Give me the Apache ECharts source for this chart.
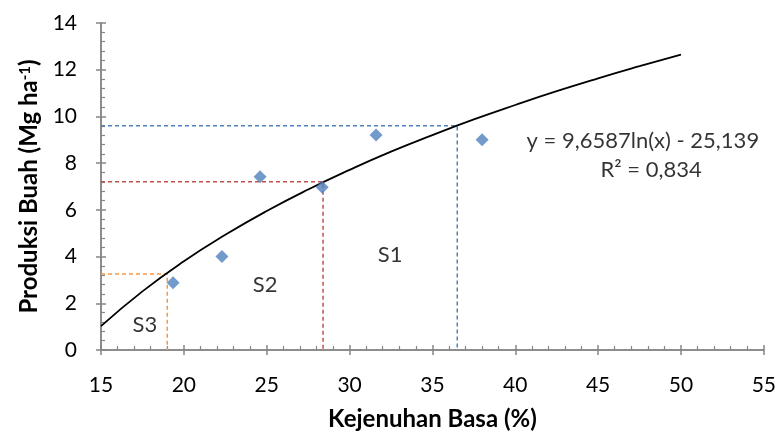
<!DOCTYPE html>
<html><head><meta charset="utf-8">
<script src="https://cdn.jsdelivr.net/npm/echarts@6/dist/echarts.min.js"></script>
<style>html,body{margin:0;padding:0;background:#fff}#c{width:779px;height:438px}</style>
</head><body><div id="c"></div>
<script>
// Observed data points (Kejenuhan Basa %, Produksi Buah Mg/ha)
const obsX = [19.35, 22.3, 24.6, 28.35, 31.6, 38.0];
const obsY = [2.88, 4.0, 7.42, 6.97, 9.2, 9.0];
// Trend curve
const curveX = [15, 17.5, 20, 22.5, 25, 27.5, 30, 32.5, 35, 37.5, 40, 42.5, 45, 47.5, 50];
const curveY = [1.02, 2.51, 3.80, 4.93, 5.95, 6.87, 7.71, 8.49, 9.20, 9.87, 10.49, 11.08, 11.63, 12.15, 12.65];
// Class boundaries (x threshold, y threshold)
const s3Bound = [19.0, 3.25];
const s2Bound = [28.4, 7.2];
const s1Bound = [36.5, 9.6];
const classLabels = ['S3', 'S2', 'S1'];
const eqText = ['y = 9,6587ln(x) - 25,139', 'R\u00B2 = 0,834'];
const xTicks = [15, 55, 5];
const yTicks = [0, 14, 2];

const FONT = 'Lato';
const axisGray = '#868686';
const zip = (a, b) => a.map((v, i) => [v, b[i]]);
const boundLine = (b, color) => ({
  type: 'line', data: [[xTicks[0], b[1]], [b[0], b[1]], [b[0], 0]],
  symbol: 'none', lineStyle: { color: color, width: 1.5, type: [4, 3] }, z: 1, silent: true
});
const baseX = {
  type: 'value', min: xTicks[0], max: xTicks[1], interval: xTicks[2], position: 'bottom',
  splitLine: { show: false },
  axisLine: { lineStyle: { color: axisGray, width: 1.5 } }
};
const baseY = {
  type: 'value', min: yTicks[0], max: yTicks[1], interval: yTicks[2], position: 'left',
  splitLine: { show: false },
  axisLine: { lineStyle: { color: axisGray, width: 1.5 } }
};
const chart = echarts.init(document.getElementById('c'), null, { renderer: 'canvas' });
chart.setOption({
  animation: false,
  textStyle: { fontFamily: FONT },
  grid: { left: 101, right: 14, top: 23, bottom: 88 },
  xAxis: [
    Object.assign({}, baseX, {
      name: 'Kejenuhan Basa (%)', nameLocation: 'middle', nameGap: 57,
      nameTextStyle: { fontFamily: FONT, fontSize: 24, fontWeight: 'bold', color: '#000' },
      axisTick: { show: true, inside: false, length: 5, lineStyle: { color: axisGray, width: 1.5 } },
      axisLabel: { fontFamily: FONT, fontSize: 21, color: '#000', margin: 25 }
    }),
    Object.assign({}, baseX, {
      axisTick: { show: true, inside: true, length: 5, lineStyle: { color: axisGray, width: 1.5 } },
      minorTick: { show: true, splitNumber: 5, length: 4, lineStyle: { color: axisGray, width: 1.2 } },
      axisLabel: { show: false }
    })
  ],
  yAxis: [
    Object.assign({}, baseY, {
      name: '{b|Produksi Buah (Mg ha}{s|-1}{b|)}', nameLocation: 'middle', nameGap: 58,
      nameTextStyle: { rich: {
        b: { fontFamily: FONT, fontSize: 24, fontWeight: 'bold', color: '#000' },
        s: { fontFamily: FONT, fontSize: 15, fontWeight: 'bold', color: '#000', verticalAlign: 'top', padding: [0, 0, 10, 0] }
      } },
      axisTick: { show: true, inside: false, length: 5, lineStyle: { color: axisGray, width: 1.5 } },
      axisLabel: { fontFamily: FONT, fontSize: 21, color: '#000', margin: 24 }
    }),
    Object.assign({}, baseY, {
      axisTick: { show: true, inside: true, length: 5, lineStyle: { color: axisGray, width: 1.5 } },
      minorTick: { show: true, splitNumber: 5, length: 4, lineStyle: { color: axisGray, width: 1.2 } },
      axisLabel: { show: false }
    })
  ],
  series: [
    boundLine(s3Bound, '#f79646'),
    boundLine(s2Bound, '#c0504d'),
    boundLine(s1Bound, '#4f81bd'),
    {
      type: 'line', data: zip(curveX, curveY), smooth: true, symbol: 'none',
      lineStyle: { color: '#000', width: 1.8 }, z: 3, silent: true
    },
    {
      type: 'scatter', data: zip(obsX, obsY), symbol: 'diamond', symbolSize: 13,
      itemStyle: { color: '#4f81bd' }, z: 4
    },
    {
      type: 'scatter', symbolSize: 0, silent: true, z: 5,
      data: [
        { value: [17.65, 1.07], name: classLabels[0] },
        { value: [24.9, 2.8], name: classLabels[1] },
        { value: [32.45, 4.05], name: classLabels[2] },
        { value: [47.7, 8.95], name: eqText[0] },
        { value: [48.2, 7.72], name: eqText[1] }
      ],
      label: { show: true, position: 'inside', formatter: p => p.name,
        fontFamily: FONT, fontSize: 22, color: '#000' }
    }
  ]
});
</script></body></html>
